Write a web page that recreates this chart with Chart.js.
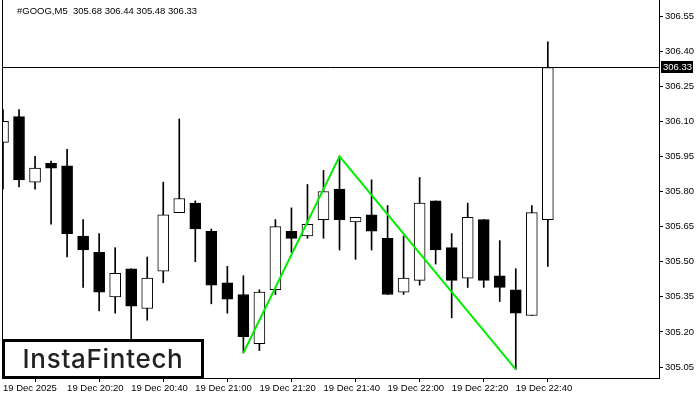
<!DOCTYPE html>
<html lang="en">
  <head>
    <meta charset="UTF-8" />
    <title>#GOOG,M5</title>
    <style>
      body {
        margin: 0;
        background: #ffffff;
      }
      canvas {
        display: block;
      }
    </style>
    <script src="https://cdn.jsdelivr.net/npm/chart.js"></script>
  </head>
  <body>
    <canvas id="chart" width="700" height="400"></canvas>

    <script>
      // candles, 5 minute bars from 19 Dec 20:00
      const opens = [306.01, 306.12, 305.84, 305.92, 305.91, 305.61, 305.54, 305.35, 305.47, 305.30, 305.46, 305.71, 305.75, 305.63, 305.41, 305.36, 305.15, 305.38, 305.63, 305.61, 305.68, 305.81, 305.67, 305.70, 305.60, 305.37, 305.42, 305.76, 305.56, 305.43, 305.68, 305.44, 305.38, 305.27, 305.68];
      const highs = [306.15, 306.15, 305.95, 305.93, 305.98, 305.68, 305.62, 305.56, 305.47, 305.52, 305.84, 306.11, 305.76, 305.64, 305.48, 305.44, 305.38, 305.68, 305.73, 305.83, 305.89, 305.95, 305.69, 305.85, 305.74, 305.61, 305.86, 305.76, 305.62, 305.75, 305.68, 305.59, 305.47, 305.74, 306.44];
      const lows = [305.81, 305.82, 305.81, 305.66, 305.52, 305.39, 305.29, 305.28, 305.12, 305.25, 305.41, 305.71, 305.50, 305.32, 305.28, 305.11, 305.12, 305.36, 305.54, 305.60, 305.60, 305.55, 305.51, 305.55, 305.36, 305.36, 305.40, 305.49, 305.26, 305.39, 305.39, 305.33, 305.04, 305.27, 305.48];
      const closes = [306.10, 305.85, 305.90, 305.90, 305.62, 305.55, 305.37, 305.45, 305.31, 305.43, 305.70, 305.77, 305.64, 305.40, 305.34, 305.18, 305.37, 305.65, 305.60, 305.66, 305.80, 305.68, 305.69, 305.63, 305.36, 305.43, 305.75, 305.55, 305.42, 305.69, 305.42, 305.39, 305.28, 305.71, 306.33];

      // double top pattern (green)
      const patternBars = [15, 21, 32];
      const patternPrices = [305.11, 305.95, 305.04];

      // axes
      const timeTickBars = [0, 4, 8, 12, 16, 20, 24, 28, 32];
      const timeTickLabels = ["19 Dec 2025", "19 Dec 20:20", "19 Dec 20:40", "19 Dec 21:00", "19 Dec 21:20", "19 Dec 21:40", "19 Dec 22:00", "19 Dec 22:20", "19 Dec 22:40"];
      const priceTicks = [305.05, 305.20, 305.35, 305.50, 305.65, 305.80, 305.95, 306.10, 306.25, 306.40, 306.55];

      const symbolTitle = "#GOOG,M5  305.68 306.44 305.48 306.33";
      const lastPrice = 306.33;

      Chart.defaults.font.family = "'Liberation Sans', Arial, sans-serif";
      Chart.defaults.font.size = 9.5;
      Chart.defaults.color = "#000";

      const bodies = opens.map((o, i) => ({ x: i, y: [o, closes[i]] }));
      const wicks = highs.map((h, i) => ({ x: i, y: [lows[i], h] }));
      const pattern = patternBars.map((b, i) => ({ x: b, y: patternPrices[i] }));

      // frame, current price line, title, price tag, logo
      const overlay = {
        id: "overlay",
        afterDatasetsDraw(chart) {
          const { ctx, chartArea } = chart;
          const y = Math.round(chart.scales.y.getPixelForValue(lastPrice)) + 0.5;
          ctx.save();
          ctx.strokeStyle = "#000";
          ctx.lineWidth = 1;
          ctx.beginPath();
          ctx.moveTo(chartArea.left, y);
          ctx.lineTo(chartArea.right, y);
          ctx.moveTo(chartArea.left + 0.5, chartArea.top);
          ctx.lineTo(chartArea.left + 0.5, chartArea.bottom);
          ctx.stroke();
          ctx.restore();
        },
        afterDraw(chart) {
          const { ctx, chartArea } = chart;
          ctx.save();
          ctx.font = "9.5px 'Liberation Sans', Arial, sans-serif";
          ctx.fillStyle = "#000";
          ctx.textBaseline = "middle";
          ctx.fillText(symbolTitle, chartArea.left + 15, 11);

          // price tag
          const y = Math.round(chart.scales.y.getPixelForValue(lastPrice));
          ctx.fillStyle = "#000";
          ctx.fillRect(chartArea.right + 2, y - 6, 32, 12);
          ctx.fillStyle = "#fff";
          ctx.fillText(lastPrice.toFixed(2), chartArea.right + 4, y + 0.5);

          // logo
          const bx = chartArea.left + 1.5, by = 340.5, bw = 199, bh = 37;
          ctx.fillStyle = "#fff";
          ctx.fillRect(bx, by, bw, bh);
          ctx.strokeStyle = "#000";
          ctx.lineWidth = 3;
          ctx.strokeRect(bx, by, bw, bh);
          ctx.fillStyle = "#222";
          ctx.font = "500 26px Inter, 'Noto Sans', sans-serif";
          ctx.letterSpacing = "0.7px";
          ctx.textAlign = "center";
          ctx.fillText("InstaFintech", bx + bw / 2, by + bh / 2 + 1);
          ctx.restore();
        },
      };

      new Chart(document.getElementById("chart"), {
        type: "bar",
        data: {
          datasets: [
            {
              type: "line",
              data: pattern,
              borderColor: "#00ee00",
              borderWidth: 2,
              pointRadius: 0,
              fill: false,
              order: 0,
            },
            {
              data: bodies,
              backgroundColor: opens.map((o, i) => (closes[i] >= o ? "#fff" : "#000")),
              borderColor: "#000",
              borderWidth: 1,
              borderSkipped: false,
              barThickness: 11,
              grouped: false,
              order: 1,
            },
            {
              data: wicks,
              backgroundColor: "#000",
              borderWidth: 0,
              barThickness: 1,
              grouped: false,
              order: 2,
            },
          ],
        },
        options: {
          responsive: false,
          animation: false,
          layout: { padding: { left: 2, top: 0, right: 0, bottom: 0 } },
          plugins: {
            legend: { display: false },
            tooltip: { enabled: false },
          },
          scales: {
            x: {
              type: "linear",
              offset: false,
              min: -0.0625,
              max: 40.9375,
              grid: { drawOnChartArea: false, drawTicks: true, tickLength: 4, tickColor: "#000" },
              border: { display: true, color: "#000", width: 1 },
              afterBuildTicks: (scale) => {
                scale.ticks = timeTickBars.map((v) => ({ value: v }));
              },
              afterFit: (scale) => {
                scale.height = 22;
                scale.paddingLeft = 0;
                scale.paddingRight = 0;
              },
              ticks: {
                autoSkip: false,
                maxRotation: 0,
                align: "start",
                padding: 1,
                callback: (v) => timeTickLabels[timeTickBars.indexOf(v)],
              },
            },
            y: {
              position: "right",
              min: 305.003,
              max: 306.6184,
              grid: { drawOnChartArea: false, drawTicks: true, tickLength: 4, tickColor: "#000" },
              border: { display: true, color: "#000", width: 1 },
              afterBuildTicks: (scale) => {
                scale.ticks = priceTicks.map((v) => ({ value: v }));
              },
              afterFit: (scale) => {
                scale.width = 41;
                scale.paddingTop = 0;
                scale.paddingBottom = 0;
              },
              ticks: {
                padding: 2,
                callback: (v) => v.toFixed(2),
              },
            },
          },
        },
        plugins: [overlay],
      });
    </script>
  </body>
</html>
